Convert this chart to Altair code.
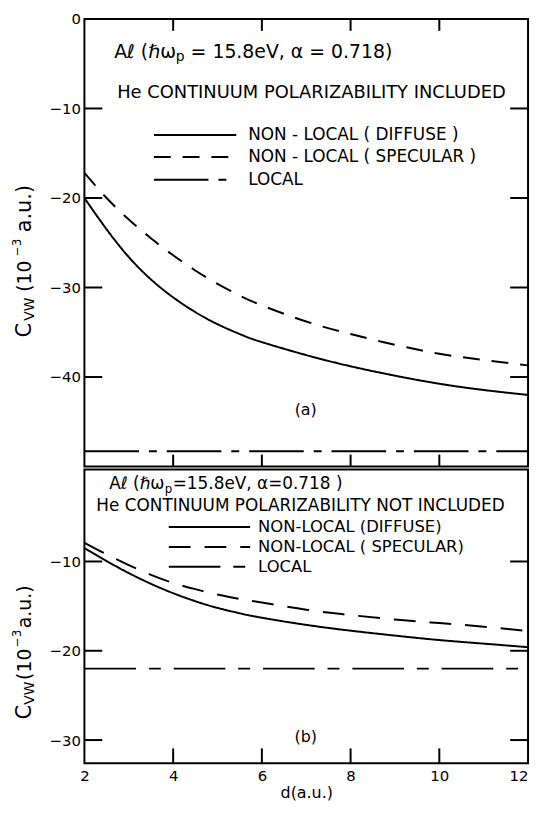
import altair as alt
import pandas as pd

FONT = "DejaVu Sans"

# ---- data ----
d_vals = [2, 2.5, 3, 3.5, 4, 4.5, 5, 5.5, 6, 7, 8, 9, 10, 11, 12]
a_diffuse = [-20.0, -23.5, -26.6, -29.1, -31.1, -32.75, -34.1, -35.2, -36.1, -37.55, -38.8, -39.85, -40.75, -41.45, -42.0]
a_specular = [-17.2, -20.0, -22.4, -24.5, -26.4, -28.1, -29.6, -30.9, -32.0, -33.8, -35.2, -36.4, -37.4, -38.1, -38.7]
a_local = -48.3
b_diffuse = [-8.5, -9.95, -11.3, -12.5, -13.55, -14.45, -15.2, -15.8, -16.3, -17.1, -17.75, -18.3, -18.8, -19.2, -19.6]
b_specular = [-7.9, -9.2, -10.4, -11.5, -12.4, -13.1, -13.7, -14.2, -14.6, -15.4, -16.0, -16.5, -16.9, -17.3, -17.8]
b_local = -22.0

series = ["NON-LOCAL (DIFFUSE)", "NON-LOCAL (SPECULAR)", "LOCAL"]
legend_a = ["NON - LOCAL ( DIFFUSE )", "NON - LOCAL ( SPECULAR )", "LOCAL"]
legend_b = ["NON-LOCAL (DIFFUSE)", "NON-LOCAL ( SPECULAR)", "LOCAL"]
x_labels = [2, 4, 6, 8, 10, 12]
x_inner = [4, 6, 8, 10]
y_labels_a = [0, -10, -20, -30, -40]
y_inner_a = [-10, -20, -30, -40]
y_labels_b = [-10, -20, -30]
y_inner_b = [-10, -20, -30]

W = 447
HA = 451
HB = 296


def make_df(diffuse, specular, local):
    rows = []
    for d, v in zip(d_vals, diffuse):
        rows.append({"d": d, "v": v, "s": series[0]})
    for d, v in zip(d_vals, specular):
        rows.append({"d": d, "v": v, "s": series[1]})
    for d in [d_vals[0], d_vals[-1]]:
        rows.append({"d": d, "v": local, "s": series[2]})
    return pd.DataFrame(rows)


def piece(s, x, y, size, dx=0, dy=0, align="left", angle=0):
    return alt.Chart(pd.DataFrame({"t": [s]})).mark_text(
        text=s, font=FONT, fontSize=size, align=align, baseline="middle", color="black",
        dx=dx, dy=dy, angle=angle,
    ).encode(x=alt.value(x), y=alt.value(y))


def panel(df, ydom, H, ylabels, yinner, dashes, show_x, texts, legend, tag, tag_y,
          ytitle_y, ytitle_pieces):
    xs = alt.Scale(domain=[2, 12], nice=False, zero=False)
    ys = alt.Scale(domain=ydom, nice=False, zero=False)
    if show_x:
        xax = alt.Axis(values=x_labels, title="d(a.u.)", labelFontSize=15, labelPadding=5,
                       labelAlign={"condition": {"test": "datum.value === 12", "value": "right"},
                                   "value": "center"},
                       titleFontSize=16, titleFont=FONT, titleFontWeight="normal", titlePadding=1,
                       labelFont=FONT, labelColor="black", titleColor="black")
    else:
        xax = None
    yax = alt.Axis(values=ylabels, title=None, labelFontSize=15, labelPadding=4, labelFont=FONT,
                   labelColor="black")
    x_enc = alt.X("d:Q", scale=xs, axis=xax)
    y_enc = alt.Y("v:Q", scale=ys, axis=yax)

    lines = alt.Chart(df).mark_line(color="black", strokeWidth=2, strokeCap="butt",
                                    interpolate="natural").encode(
        x=x_enc, y=y_enc,
        strokeDash=alt.StrokeDash("s:N", scale=alt.Scale(domain=series, range=dashes), legend=None),
    )
    layers = [lines]

    ty = pd.DataFrame({"v": yinner})
    layers.append(alt.Chart(ty).mark_rule(color="black", strokeWidth=2).encode(
        y=y_enc, x=alt.value(0), x2=alt.value(18)))
    layers.append(alt.Chart(ty).mark_rule(color="black", strokeWidth=2).encode(
        y=y_enc, x=alt.value(W), x2=alt.value(W - 18)))
    tx = pd.DataFrame({"d": x_inner})
    if not show_x:
        layers.append(alt.Chart(tx).mark_rule(color="black", strokeWidth=2).encode(
            x=x_enc, y=alt.value(0), y2=alt.value(12)))
        layers.append(alt.Chart(tx).mark_rule(color="black", strokeWidth=2).encode(
            x=x_enc, y=alt.value(H), y2=alt.value(H - 12)))
    else:
        layers.append(alt.Chart(tx).mark_rule(color="black", strokeWidth=2).encode(
            x=x_enc, y=alt.value(H), y2=alt.value(H - 15)))

    for (s, x, y, size, dx, dy) in texts:
        layers.append(piece(s, x, y, size, dx, dy))

    lx0, lx1, tx0, lys, labels, lsize = legend
    for label, dash, ly in zip(labels, dashes, lys):
        layers.append(alt.Chart(pd.DataFrame({"t": [label]})).mark_rule(
            color="black", strokeWidth=2, strokeDash=dash, strokeCap="butt").encode(
            x=alt.value(lx0), x2=alt.value(lx1), y=alt.value(ly)))
        layers.append(piece(label, tx0, ly, lsize))
    layers.append(piece(tag, 223, tag_y, 16, align="center"))

    for s, size, dx, dy in ytitle_pieces:
        layers.append(piece(s, -60, ytitle_y, size, dx, dy, angle=270))

    return alt.layer(*layers).properties(width=W, height=H)


top = panel(
    make_df(a_diffuse, a_specular, a_local), [-50, 0], HA, y_labels_a, y_inner_a,
    [[1, 0], [17, 12], [55, 10, 8, 10]], False,
    [("A\u2113 (\u210f\u03c9", 30, 33, 19, 0, 0),
     ("p", 30, 33, 14, 62, 5),
     ("= 15.8eV, \u03b1 = 0.718)", 30, 33, 19, 77, 0),
     ("He CONTINUUM POLARIZABILITY INCLUDED", 33, 75, 18, 0, 0)],
    (70, 153, 165, [117, 139, 162], legend_a, 17), "(a)", 394,
    321, [("C", 21, 0, 0), ("VW", 14, 17, 5), ("(10", 19, 46, 0), ("\u22123", 12, 82, -8),
          ("a.u.)", 21, 106, 0)],
)

bottom = panel(
    make_df(b_diffuse, b_specular, b_local), [-32.6, 0.3], HB, y_labels_b, y_inner_b,
    [[1, 0], [22, 14], [52, 13, 12, 13]], True,
    [("A\u2113 (\u210f\u03c9", 25, 15, 17, 0, 0),
     ("p", 25, 15, 12, 56, 5),
     ("=15.8eV, \u03b1=0.718 )", 25, 15, 17, 64, 0),
     ("He CONTINUUM  POLARIZABILITY NOT INCLUDED", 12, 37, 17, 0, 0)],
    (85, 167, 175, [58, 78, 98], legend_b, 16.5), "(b)", 270,
    252, [("C", 21, 0, 0), ("VW", 14, 15, 5), ("(10", 19, 40, 0), ("\u22123", 12, 73, -8),
          ("a.u.)", 19, 92, 0)],
)

chart = alt.vconcat(top, bottom, spacing=0).resolve_scale(
    y="independent", strokeDash="independent"
).properties(
    padding={"left": 2, "top": 0, "right": 0, "bottom": 0},
    background="white",
).configure_view(
    stroke="black", strokeWidth=2
).configure_axis(
    grid=False, domain=False, ticks=False, tickSize=0
)

chart.save("out.html", embed_options={"renderer": "svg", "actions": False})
